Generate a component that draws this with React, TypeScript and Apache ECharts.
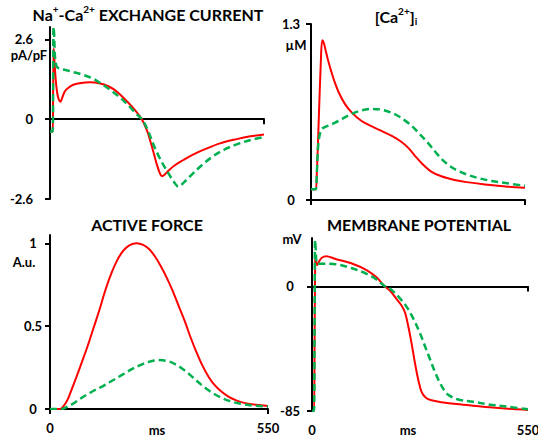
import React, { useEffect, useRef } from 'react';
import * as echarts from 'echarts';

// ---- data (time in ms) ----
const timeMin = 0;
const timeMax = 550;

const ncxTicks = [-2.6, 0, 2.6];
const caTicks = [0, 1.3];
const forceTicks = [0, 0.5, 1];
const vmTicks = [-85, 0];

// Na+-Ca2+ exchange current (pA/pF)
const ncxRed = [
  [0, -0.4], [7, -0.4], [8, 0.8], [9.5, 2.3], [11, 2.0], [14, 1.4], [18, 0.9], [22, 0.66], [27, 0.57],
  [32, 0.72], [38, 0.9], [45, 1.0], [60, 1.12], [80, 1.18], [103, 1.2], [129, 1.16], [150, 1.07],
  [165, 0.96], [180, 0.8], [200, 0.55], [218, 0.3], [236, 0], [250, -0.4], [262, -0.9], [274, -1.45],
  [282, -1.75], [288, -1.86], [295, -1.8], [305, -1.67], [320, -1.51], [343, -1.33], [370, -1.14],
  [400, -0.97], [437, -0.79], [480, -0.65], [515, -0.56], [550, -0.5],
];
const ncxGreen = [
  [0, -0.4], [7, -0.4], [8, 1.0], [9, 3.0], [10.5, 2.8], [13, 2.0], [17, 1.72], [22, 1.66], [40, 1.6],
  [60, 1.53], [86, 1.44], [110, 1.32], [130, 1.17], [155, 0.95], [180, 0.7], [205, 0.4], [222, 0.17],
  [236, 0], [250, -0.32], [265, -0.8], [280, -1.22], [295, -1.57], [308, -1.84], [320, -2.07], [330, -2.2],
  [345, -2.05], [365, -1.8], [390, -1.5], [420, -1.2], [450, -0.98], [480, -0.82], [515, -0.68], [550, -0.58],
];

// [Ca2+]i (uM)
const caRed = [
  [0, 0.08], [12, 0.08], [15, 0.2], [20, 0.6], [25, 1.0], [29, 1.18], [33, 1.16], [38, 1.1], [44, 1.03],
  [52, 0.95], [61, 0.87], [72, 0.79], [87, 0.71], [105, 0.645], [129, 0.585], [155, 0.545], [181, 0.51],
  [210, 0.47], [232, 0.43], [250, 0.385], [266, 0.33], [285, 0.27], [309, 0.21], [335, 0.175], [369, 0.148],
  [400, 0.132], [447, 0.115], [500, 0.1], [550, 0.09],
];
const caGreen = [
  [0, 0.08], [12, 0.08], [15, 0.2], [19, 0.42], [24, 0.5], [30, 0.53], [45, 0.55], [61, 0.57], [80, 0.6],
  [104, 0.635], [130, 0.662], [155, 0.673], [180, 0.668], [215, 0.635], [240, 0.59], [258, 0.55], [280, 0.485],
  [301, 0.42], [320, 0.355], [335, 0.305], [357, 0.25], [380, 0.213], [404, 0.185], [430, 0.162], [465, 0.14],
  [500, 0.125], [550, 0.105],
];

// Active force (A.u.)
const forceRed = [
  [0, 0], [25, 0], [35, 0.02], [45, 0.06], [55, 0.12], [67, 0.195], [80, 0.28], [95, 0.38], [110, 0.49],
  [125, 0.6], [140, 0.72], [155, 0.82], [170, 0.9], [185, 0.955], [200, 0.988], [219, 1.0], [235, 0.99],
  [250, 0.965], [265, 0.92], [280, 0.86], [295, 0.79], [310, 0.71], [325, 0.62], [340, 0.53], [355, 0.43],
  [370, 0.34], [385, 0.26], [400, 0.195], [415, 0.145], [430, 0.11], [450, 0.075], [470, 0.052],
  [490, 0.037], [520, 0.025], [550, 0.018],
];
const forceGreen = [
  [0, 0], [29, 0], [45, 0.015], [60, 0.035], [84, 0.074], [110, 0.11], [135, 0.14], [160, 0.175],
  [185, 0.21], [210, 0.245], [235, 0.272], [255, 0.288], [277, 0.295], [300, 0.287], [320, 0.265],
  [340, 0.232], [360, 0.192], [380, 0.15], [400, 0.113], [420, 0.083], [440, 0.06], [465, 0.04],
  [490, 0.028], [520, 0.019], [550, 0.014],
];

// Membrane potential (mV)
const vmRed = [
  [0, -85], [5, -85], [6.5, -40], [8, 15], [9, 21], [11, 16], [13, 14.5], [18, 17], [25, 19.5], [36, 20.6],
  [60, 18.7], [100, 15.8], [140, 11], [165, 6], [185, 0], [199, -3], [215, -8.5], [228, -13], [237, -18],
  [245, -27], [253, -38], [262, -52], [270, -63], [279, -72], [290, -76], [304, -77.7], [330, -79],
  [368, -80.3], [400, -81], [453, -82.5], [500, -83.5], [550, -84.3],
];
const vmGreen = [
  [0, -85], [5, -85], [6.5, -30], [8, 31.5], [9.5, 25], [11, 17], [13, 15.3], [25, 15.5], [54, 15.3],
  [100, 12.5], [139, 8.6], [165, 4.5], [186, 0], [199, -1.6], [220, -7], [241, -14], [258, -22], [275, -32],
  [288, -41], [301, -50], [314, -59], [326, -66], [337, -71], [347, -74], [370, -77], [410, -78.7],
  [450, -80.5], [496, -82], [550, -83.8],
];

const FONT = 'Lato, "Liberation Sans", sans-serif';
const RED = '#ff0000';
const GREEN = '#00b050';
const BLACK = '#000000';

const labelStyle = { color: BLACK, fontFamily: FONT, fontWeight: 'bold' as const, fontSize: 13 };

function xAxis(gridIndex: number, showLabels: boolean, extra: any = {}) {
  return {
    type: 'value',
    gridIndex,
    min: timeMin,
    max: timeMax,
    interval: timeMax,
    axisLine: { show: true, onZero: true, lineStyle: { color: BLACK, width: 2 } },
    axisTick: { show: true, length: 5, lineStyle: { color: BLACK, width: 2 } },
    axisLabel: { show: showLabels, margin: 12, ...labelStyle },
    splitLine: { show: false },
    ...extra,
  };
}

function yAxis(gridIndex: number, min: number, max: number, ticks: number[], align: string, margin: number) {
  return {
    type: 'value',
    gridIndex,
    min,
    max,
    axisLine: { show: true, lineStyle: { color: BLACK, width: 2 } },
    axisTick: { show: true, length: 5, customValues: ticks, lineStyle: { color: BLACK, width: 2 } },
    axisLabel: { show: true, customValues: ticks, align, margin, ...labelStyle },
    splitLine: { show: false },
  };
}

function line(data: number[][], color: string, dashed: boolean, xAxisIndex: number, yAxisIndex: number) {
  return {
    type: 'line',
    data,
    xAxisIndex,
    yAxisIndex,
    showSymbol: false,
    smooth: 0.35,
    silent: true,
    lineStyle: dashed ? { color, width: 2.5, type: [7, 4] } : { color, width: 2 },
  };
}

const titleRich = {
  b: { font: `bold 16px ${FONT}`, fill: BLACK, lineHeight: 20 },
  s: { font: `bold 10px ${FONT}`, fill: BLACK, verticalAlign: 'top', lineHeight: 12 },
  sub: { font: `bold 10px ${FONT}`, fill: BLACK, verticalAlign: 'bottom', lineHeight: 12 },
};

function title(x: number, y: number, text: string) {
  return {
    type: 'text', x, y, silent: true,
    style: { text, rich: titleRich, align: 'center', verticalAlign: 'middle', fill: BLACK, font: `bold 16px ${FONT}` },
  };
}

function unit(x: number, y: number, text: string) {
  return {
    type: 'text', x, y, silent: true,
    style: { text, align: 'center', verticalAlign: 'middle', fill: BLACK, font: `bold 13px ${FONT}` },
  };
}

const option = {
  animation: false,
  backgroundColor: '#ffffff',
  grid: [
    { left: 50, top: 27, width: 214, height: 172, containLabel: false, outerBoundsMode: 'none' },
    { left: 311, top: 24, width: 214, height: 176, containLabel: false, outerBoundsMode: 'none' },
    { left: 50, top: 235, width: 218, height: 174, containLabel: false, outerBoundsMode: 'none' },
    { left: 312, top: 238, width: 216, height: 173, containLabel: false, outerBoundsMode: 'none' },
  ],
  xAxis: [
    xAxis(0, false),
    xAxis(1, false),
    xAxis(2, true),
    xAxis(3, false),
    xAxis(3, true, {
      position: 'bottom',
      axisLine: { show: false, onZero: false },
      axisTick: { show: false },
      axisLabel: { show: true, margin: 12, ...labelStyle },
    }),
  ],
  yAxis: [
    yAxis(0, -2.6, 3.0, ncxTicks, 'right', 17),
    yAxis(1, 0, 1.3, caTicks, 'center', 20),
    yAxis(2, 0, 1.05, forceTicks, 'center', 17),
    yAxis(3, -85, 33, vmTicks, 'center', 22),
  ],
  series: [
    line(ncxRed, RED, false, 0, 0),
    line(ncxGreen, GREEN, true, 0, 0),
    line(caRed, RED, false, 1, 1),
    line(caGreen, GREEN, true, 1, 1),
    line(forceRed, RED, false, 2, 2),
    line(forceGreen, GREEN, true, 2, 2),
    line(vmRed, RED, false, 3, 3),
    line(vmGreen, GREEN, true, 3, 3),
  ],
  graphic: [
    title(148, 14, '{b|Na}{s|+}{b|-Ca}{s|2+}{b| EXCHANGE CURRENT}'),
    title(396, 16, '{b|[Ca}{s|2+}{b|]}{sub|i}'),
    title(147, 224, '{b|ACTIVE FORCE}'),
    title(419, 224, '{b|MEMBRANE POTENTIAL}'),
    unit(29, 55, 'pA/pF'),
    unit(296, 45, 'µM'),
    unit(24, 262, 'A.u.'),
    unit(292, 239, 'mV'),
    unit(157, 430, 'ms'),
    unit(408, 430, 'ms'),
  ],
};

export default function App() {
  const ref = useRef<HTMLDivElement>(null);
  useEffect(() => {
    if (!ref.current) return;
    const chart = echarts.init(ref.current, null, { renderer: 'svg' });
    chart.setOption(option as any);
    return () => chart.dispose();
  }, []);
  return (
    <div
      ref={ref}
      style={{ position: 'fixed', left: 0, top: 0, width: 538, height: 440, background: '#ffffff' }}
    />
  );
}
